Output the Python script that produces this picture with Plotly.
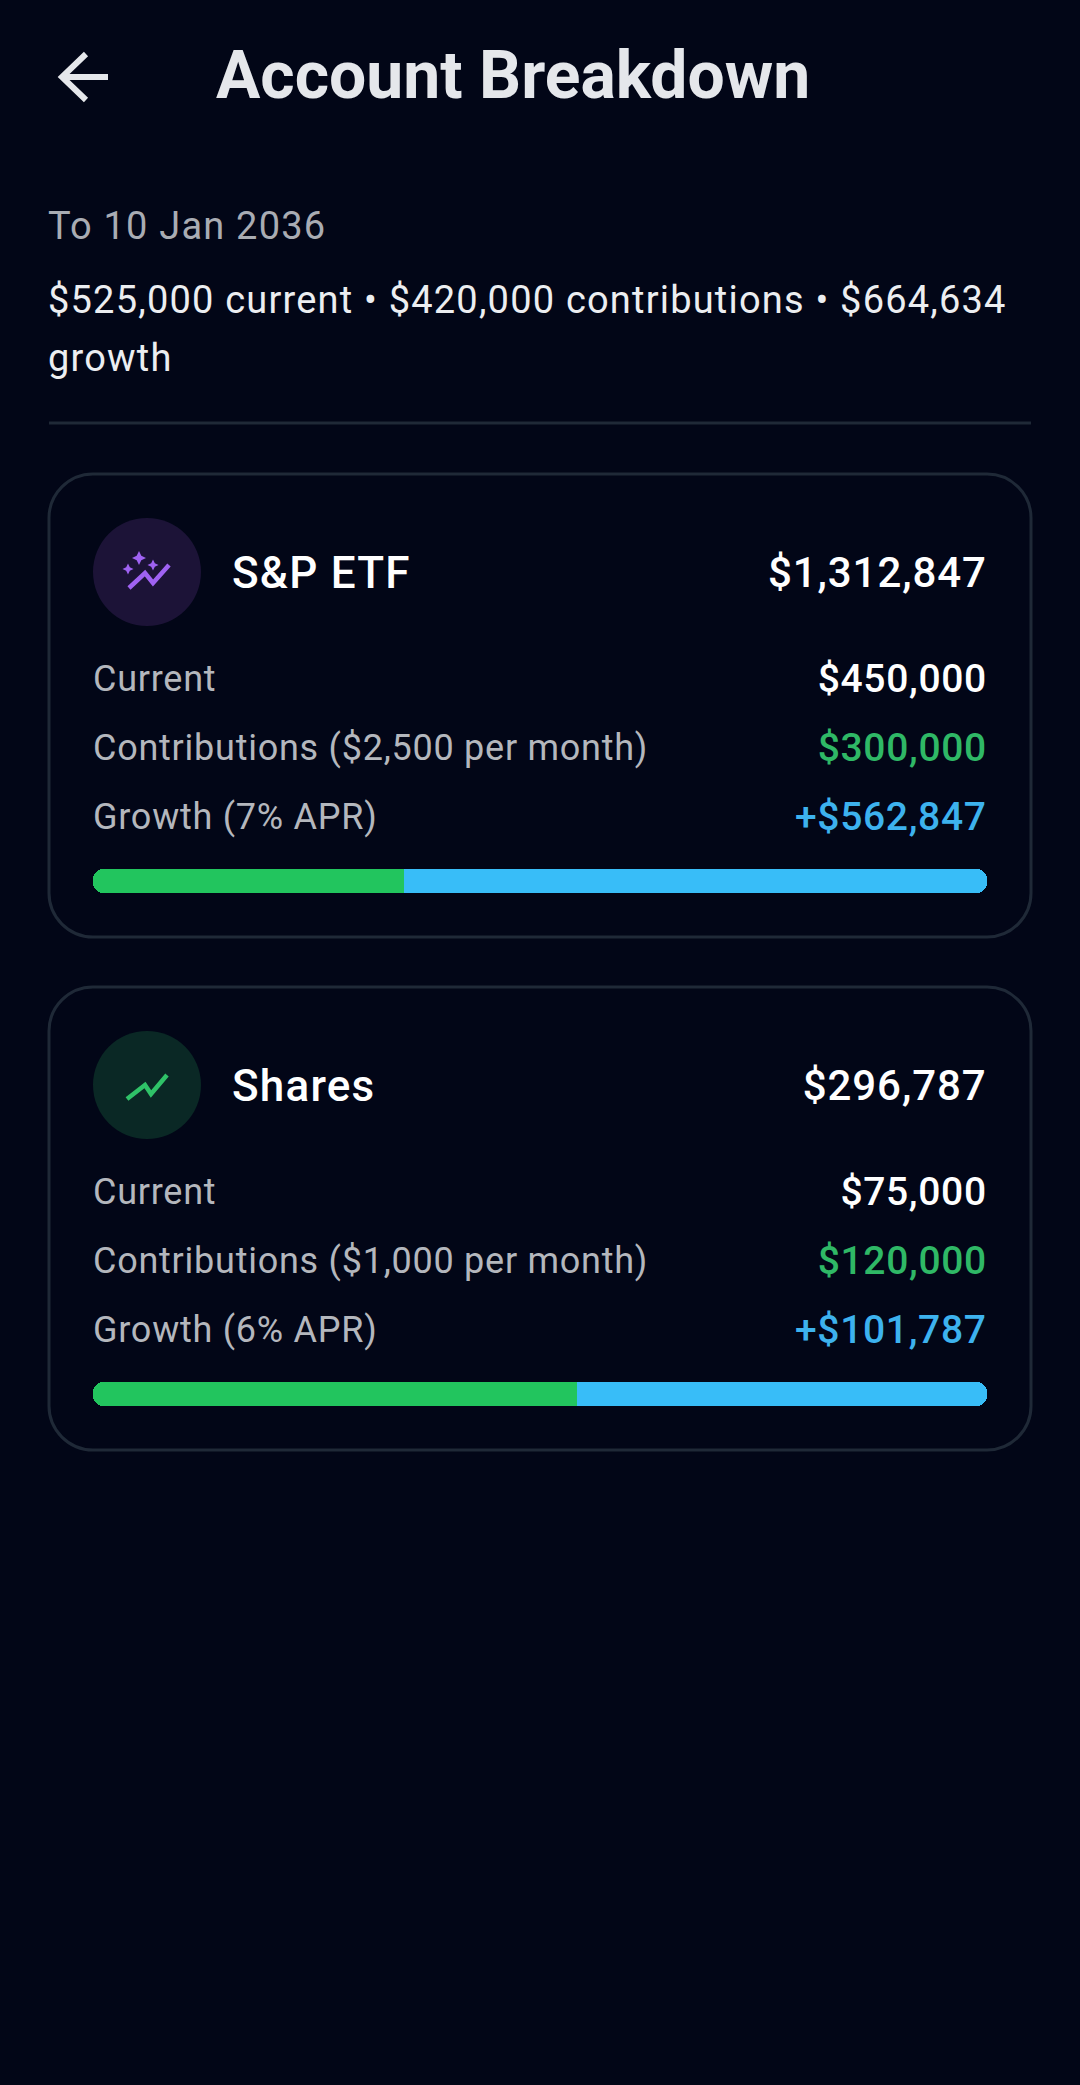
import plotly.graph_objects as go

# values
accounts = ["S&P ETF", "Shares"]
current = [450000, 75000]
contributions = [300000, 120000]
growth = [562847, 101787]
totals = [1312847, 296787]
monthly = [2500, 1000]
apr = [7, 6]

title = "Account Breakdown"
date_line = "To 10 Jan 2036"
summary_lines = ["$525,000 current • $420,000 contributions • $664,634", "growth"]

BG = "#020617"
BORDER = "#1f2937"
GREEN = "#22c55e"
BLUE = "#38bdf8"
GREEN_TEXT = "#2fb866"
BLUE_TEXT = "#3db2ee"
GREY = "#b4b7bd"
FONT = "Roboto"

W, H = 1080, 2085
CARD_TOPS = [474, 987]
CARD_H = 463
ICON_BG = ["#1c1337", "#0a2825"]

fig = go.Figure()
shapes = []
notes = []


def text(x, y, s, size, color, anchor="left", weight=400):
    notes.append(dict(x=x, y=y, xref="x", yref="y", text=s, showarrow=False, xanchor=anchor, align=anchor,
                      yanchor="middle", borderpad=0, borderwidth=0,
                      font=dict(family=FONT, size=size, color=color, weight=weight)))


def path(d, color=None, width=0, fill=None):
    shapes.append(dict(type="path", path=d, xref="x", yref="y", fillcolor=fill,
                       line=dict(color=color, width=width)))


def rounded(x0, y0, x1, y1, r):
    c = r * 0.45
    return (f"M{x0+r},{y0} L{x1-r},{y0} C{x1-c},{y0} {x1},{y0+c} {x1},{y0+r} L{x1},{y1-r} "
            f"C{x1},{y1-c} {x1-c},{y1} {x1-r},{y1} L{x0+r},{y1} C{x0+c},{y1} {x0},{y1-c} {x0},{y1-r} "
            f"L{x0},{y0+r} C{x0},{y0+c} {x0+c},{y0} {x0+r},{y0} Z")


def star(cx, cy, r):
    k = r * 0.33
    return (f"M{cx},{cy-r} L{cx+k},{cy-k} L{cx+r},{cy} L{cx+k},{cy+k} L{cx},{cy+r} "
            f"L{cx-k},{cy+k} L{cx-r},{cy} L{cx-k},{cy-k} Z")


# header
path("M108,77 L63,77 M86,54 L62,77 L86,100", color="#e5e7eb", width=6)
text(216, 75, title, 66, "#e5e7eb", weight=700)
text(48, 226, date_line, 38, "#a9acb3")
text(48, 300, summary_lines[0], 38, "#eceef1")
text(48, 358, summary_lines[1], 38, "#eceef1")
shapes.append(dict(type="line", x0=49, x1=1031, y0=423, y1=423, xref="x", yref="y",
                   line=dict(color=BORDER, width=3)))

fig.add_trace(go.Scatter(x=[None], y=[None], xaxis="x", yaxis="y", showlegend=False))

for i, name in enumerate(accounts):
    top = CARD_TOPS[i]
    path(rounded(49, top, 1031, top + CARD_H, 44), color=BORDER, width=3)
    shapes.append(dict(type="circle", xref="x", yref="y", x0=93, x1=201, y0=top + 44, y1=top + 152,
                       fillcolor=ICON_BG[i], line=dict(width=0)))
    cy = top + 98
    if i == 0:
        path(f"M129,{cy+16} L145,{cy+1} L153,{cy+11} L169,{cy-7}", color="#9f62f2", width=4.5)
        path(star(139, cy - 14, 7), fill="#9f62f2")
        path(star(128, cy - 3, 5.5), fill="#9f62f2")
        path(star(153, cy - 7, 5.5), fill="#9f62f2")
    else:
        path(f"M127,{cy+14} L145,{cy} L151,{cy+9} L167,{cy-10}", color="#2fc268", width=4.5)

    text(232, cy + 1, name, 44, "#ffffff", weight=500)
    text(987, cy, f"${totals[i]:,}", 42, "#ffffff", "right", 500)
    text(93, top + 205, "Current", 36, GREY)
    text(987, top + 205, f"${current[i]:,}", 39, "#ffffff", "right", 500)
    text(93, top + 274, f"Contributions (${monthly[i]:,} per month)", 36, GREY)
    text(987, top + 274, f"${contributions[i]:,}", 39, GREEN_TEXT, "right", 500)
    text(93, top + 343, f"Growth ({apr[i]}% APR)", 36, GREY)
    text(987, top + 343, f"+${growth[i]:,}", 39, BLUE_TEXT, "right", 500)

    # rounded parts start at the boundary, square parts on top keep the split straight
    xa, ya = f"x{i+2}", f"y{i+2}"
    parts = [
        (contributions[i], growth[i], BLUE, 10),
        (contributions[i], -contributions[i], GREEN, 10),
        (contributions[i], growth[i] / 2, BLUE, 0),
        (contributions[i], -contributions[i] / 2, GREEN, 0),
    ]
    for base, length, color, radius in parts:
        fig.add_trace(go.Bar(y=[name], x=[length], base=[base], orientation="h",
                             marker=dict(color=color, line=dict(width=0), cornerradius=radius),
                             xaxis=xa, yaxis=ya, showlegend=False))
    bar_top = top + 395
    fig.update_layout({
        f"xaxis{i+2}": dict(domain=[93 / W, 987 / W], range=[0, contributions[i] + growth[i]], visible=False,
                            anchor=ya),
        f"yaxis{i+2}": dict(domain=[1 - (bar_top + 24) / H, 1 - bar_top / H], visible=False, anchor=xa),
    })

fig.update_layout(
    width=W, height=H, margin=dict(l=0, r=0, t=0, b=0),
    paper_bgcolor=BG, plot_bgcolor="rgba(0,0,0,0)",
    barmode="overlay", bargap=0,
    xaxis=dict(range=[0, W], visible=False, domain=[0, 1]),
    yaxis=dict(range=[H, 0], visible=False, domain=[0, 1]),
    shapes=shapes, annotations=notes, showlegend=False,
)

# plotly has no letter spacing setting, the app text is slightly tracked
spacing_js = """
document.body.style.margin='0';document.body.style.background='#020617';
var sp={'38px':1.2,'36px':0.75,'39px':0.66,'42px':0.9,'44px':1.2};
document.querySelectorAll('.annotation-text').forEach(function(t){
  var s=sp[t.style.fontSize]; if(s){t.style.letterSpacing=s+'px';}
});
"""
fig.write_html("out.html", config={"displayModeBar": False}, post_script=spacing_js)
